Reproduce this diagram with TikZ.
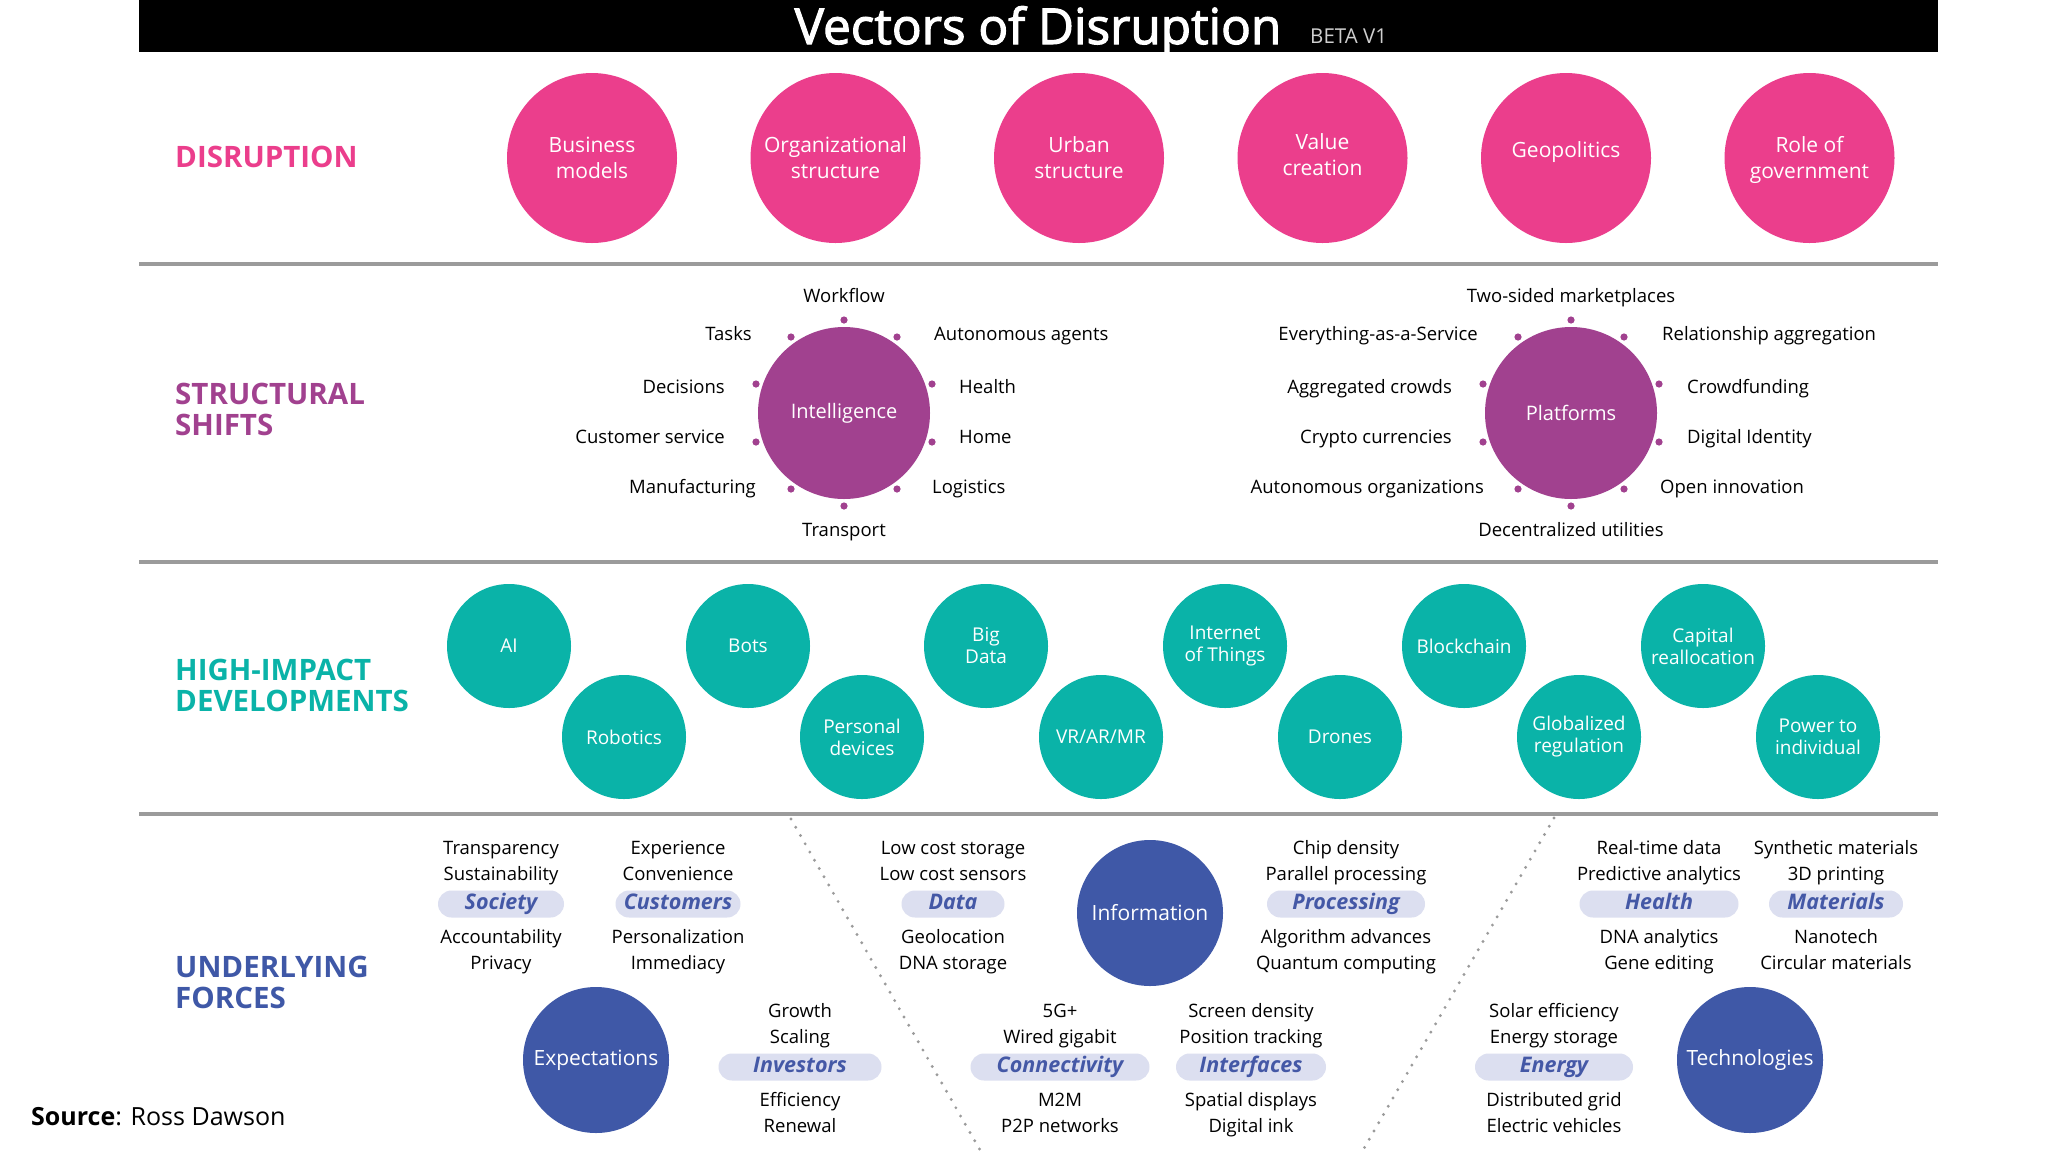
\documentclass[tikz,border=0pt]{standalone}
\usepackage{fontspec}
\setmainfont{Open Sans}
\definecolor{cpink}{HTML}{EB3E8C}
\definecolor{cpurple}{HTML}{A1418F}
\definecolor{cteal}{HTML}{0AB3A8}
\definecolor{cblue}{HTML}{3F58A7}
\definecolor{cpill}{HTML}{DCDFF0}
\definecolor{cpilltext}{HTML}{4458A6}
\definecolor{cline}{HTML}{9B9B9B}
\definecolor{cbeta}{HTML}{CFCFCF}
\tikzset{
  sectlabel/.style={anchor=west, inner sep=0, align=left, font=\fontsize{29.5}{31}\selectfont\bfseries},
  pinkc/.style={circle, fill=cpink, minimum size=170pt, inner sep=0, text=white, align=center, font=\fontsize{21}{26}\selectfont},
  pinktext/.style={inner sep=0, text=white, align=center, font=\fontsize{21}{26}\selectfont},
  purplec/.style={circle, fill=cpurple, minimum size=172pt, inner sep=0, text=white, align=center, font=\fontsize{20}{25}\selectfont},
  tealc/.style={circle, fill=cteal, minimum size=124pt, inner sep=0, text=white, align=center, font=\fontsize{19}{22}\selectfont},
  bluec/.style={circle, fill=cblue, minimum size=146pt, inner sep=0, text=white, align=center, font=\fontsize{21}{26}\selectfont},
  txt/.style={inner sep=0, font=\fontsize{18.5}{26}\selectfont},
  pill/.style={fill=cpill, rounded corners=13.5pt, minimum height=27pt, inner sep=0, text height=15pt, text depth=4pt, text=cpilltext, font=\fontsize{21.5}{21.5}\selectfont\bfseries\itshape},
  sepline/.style={draw=cline, line width=4pt},
  dotline/.style={draw=cline, line width=3.2pt, line cap=round, dash pattern=on 0pt off 9.5pt},
  sdot/.style={fill=cpurple}
}
% force group: name, x, y, pill width, label, line1, line2, line3, line4
\newcommand\fgrp[9]{%
  \node[pill, minimum width=#4pt] (#1) at (#2,#3) {#5};
  \node[txt, anchor=base] (#1-a) at ({#2},{#3-50}) {#6};
  \node[txt, anchor=base] (#1-b) at ({#2},{#3-24}) {#7};
  \node[txt, anchor=base] (#1-c) at ({#2},{#3+39.5}) {#8};
  \node[txt, anchor=base] (#1-d) at ({#2},{#3+65.5}) {#9};
}
% structural shift cluster dots (inside a shifted scope)
\newcommand\sdots{%
  \foreach \dx/\dy in {0/-93,53/-76,88/-29,88/29,53/76,0/93,-53/76,-88/29,-88/-29,-53/-76}
    \fill[sdot] (\dx,\dy) circle (3.6pt);
}
\begin{document}
\begin{tikzpicture}[x=1pt, y=-1pt]
\useasboundingbox (0,0) rectangle (2048,1152);
\fill[white] (0,0) rectangle (2048,1152);

% title bar
\fill[black] (139,0) rectangle (1938,52);
\node[anchor=base, inner sep=0, text=white, font=\fontsize{49.5}{49.5}\selectfont\addfontfeature{FakeBold=2.2}] (title) at (1038,44) {Vectors of Disruption};
\node[anchor=base west, inner sep=0, text=cbeta, font=\fontsize{20.5}{20.5}\selectfont] (beta) at (1310,43) {BETA V1};

% separators
\coordinate (s1a) at (139,264); \coordinate (s1b) at (1938,264);
\coordinate (s2a) at (139,562); \coordinate (s2b) at (1938,562);
\coordinate (s3a) at (139,814); \coordinate (s3b) at (1938,814);
\draw[sepline] (s1a) -- (s1b);
\draw[sepline] (s2a) -- (s2b);
\draw[sepline] (s3a) -- (s3b);

% section labels
\node[sectlabel, text=cpink] (L1) at (175,157) {DISRUPTION};
\node[sectlabel, text=cpurple] (L2) at (175,409) {STRUCTURAL\\SHIFTS};
\node[sectlabel, text=cteal] (L3) at (175,685) {HIGH-IMPACT\\DEVELOPMENTS};
\node[sectlabel, text=cblue] (L4) at (175,982) {UNDERLYING\\FORCES};

% disruption circles
\node[pinkc] (d1) at (592,158) {Business\\models};
\node[pinkc] (d2) at (835.5,158) {Organizational\\structure};
\node[pinkc] (d3) at (1079,158) {Urban\\structure};
\node[pinkc] (d4) at (1322.5,158) {};
\node[pinkc] (d5) at (1566,158) {};
\node[pinkc] (d6) at (1809.5,158) {};
\node[pinktext] (d4t) at (1322.5,155) {Value\\creation};
\node[pinktext] (d5t) at (1566,152) {Geopolitics};
\node[pinktext] (d6t) at (1809.5,160) {Role of\\government};

% structural shifts: Intelligence
\begin{scope}[shift={(844,413)}, name prefix=I-]
  \node[purplec] (c) at (0,0) {Intelligence};
  \sdots
  \node[txt, anchor=base] (t) at (0,-110.5) {Workflow};
  \node[txt, anchor=base] (b) at (0,123.5) {Transport};
  \node[txt, anchor=base east] (l1) at (-92,-72.5) {Tasks};
  \node[txt, anchor=base east] (l2) at (-119,-19.5) {Decisions};
  \node[txt, anchor=base east] (l3) at (-119,30.5) {Customer service};
  \node[txt, anchor=base east] (l4) at (-88,80.5) {Manufacturing};
  \node[txt, anchor=base west] (r1) at (90,-72.5) {Autonomous agents};
  \node[txt, anchor=base west] (r2) at (115,-19.5) {Health};
  \node[txt, anchor=base west] (r3) at (115,30.5) {Home};
  \node[txt, anchor=base west] (r4) at (88,80.5) {Logistics};
\end{scope}

% structural shifts: Platforms
\begin{scope}[shift={(1571,413)}, name prefix=P-]
  \node[purplec] (c) at (0,0) {Platforms};
  \sdots
  \node[txt, anchor=base] (t) at (0,-110.5) {Two-sided marketplaces};
  \node[txt, anchor=base] (b) at (0,123.5) {Decentralized utilities};
  \node[txt, anchor=base east] (l1) at (-93,-72.5) {Everything-as-a-Service};
  \node[txt, anchor=base east] (l2) at (-119,-19.5) {Aggregated crowds};
  \node[txt, anchor=base east] (l3) at (-119,30.5) {Crypto currencies};
  \node[txt, anchor=base east] (l4) at (-87,80.5) {Autonomous organizations};
  \node[txt, anchor=base west] (r1) at (91,-72.5) {Relationship aggregation};
  \node[txt, anchor=base west] (r2) at (116,-19.5) {Crowdfunding};
  \node[txt, anchor=base west] (r3) at (116,30.5) {Digital Identity};
  \node[txt, anchor=base west] (r4) at (89,80.5) {Open innovation};
\end{scope}

% high-impact developments
\node[tealc] (h1) at (509,646) {AI};
\node[tealc] (h2) at (748,646) {Bots};
\node[tealc] (h3) at (986,646) {Big\\Data};
\node[tealc] (h4) at (1225,646) {Internet\\of Things};
\node[tealc] (h5) at (1464,646) {Blockchain};
\node[tealc] (h6) at (1703,646) {Capital\\reallocation};
\node[tealc] (h7) at (624,737) {Robotics};
\node[tealc] (h8) at (862,737) {Personal\\devices};
\node[tealc] (h9) at (1101,737) {VR/AR/MR};
\node[tealc] (h10) at (1340,737) {Drones};
\node[tealc] (h11) at (1579,737) {Globalized\\regulation};
\node[tealc] (h12) at (1818,737) {Power to\\individual};

% underlying forces: dotted dividers
\coordinate (dl1a) at (791,819); \coordinate (dl1b) at (980,1150);
\coordinate (dl2a) at (1554,818); \coordinate (dl2b) at (1363,1150);
\draw[dotline] (dl1a) -- (dl1b);
\draw[dotline] (dl2a) -- (dl2b);

% main force circles
\node[bluec] (exp) at (596,1060) {Expectations};
\node[bluec] (inf) at (1150,913) {Information};
\node[bluec] (tec) at (1750,1060) {Technologies};

% force groups
\fgrp{soc}{501}{904}{126}{Society}{Transparency}{Sustainability}{Accountability}{Privacy}
\fgrp{cus}{678}{904}{125}{Customers}{Experience}{Convenience}{Personalization}{Immediacy}
\fgrp{dat}{953}{904}{103}{Data}{Low cost storage}{Low cost sensors}{Geolocation}{DNA storage}
\fgrp{pro}{1346}{904}{158}{Processing}{Chip density}{Parallel processing}{Algorithm advances}{Quantum computing}
\fgrp{hea}{1659}{904}{159}{Health}{Real-time data}{Predictive analytics}{DNA analytics}{Gene editing}
\fgrp{mat}{1836}{904}{134}{Materials}{Synthetic materials}{3D printing}{Nanotech}{Circular materials}
\fgrp{inv}{800}{1067}{163}{Investors}{Growth}{Scaling}{Efficiency}{Renewal}
\fgrp{con}{1060}{1067}{179}{Connectivity}{5G+}{Wired gigabit}{M2M}{P2P networks}
\fgrp{int}{1251}{1067}{150}{Interfaces}{Screen density}{Position tracking}{Spatial displays}{Digital ink}
\fgrp{ene}{1554}{1067}{158}{Energy}{Solar efficiency}{Energy storage}{Distributed grid}{Electric vehicles}

% source
\node[anchor=base west, inner sep=0, font=\fontsize{25}{25}\selectfont] (src) at (31,1125) {\textbf{Source}: Ross Dawson};
\end{tikzpicture}
\end{document}
